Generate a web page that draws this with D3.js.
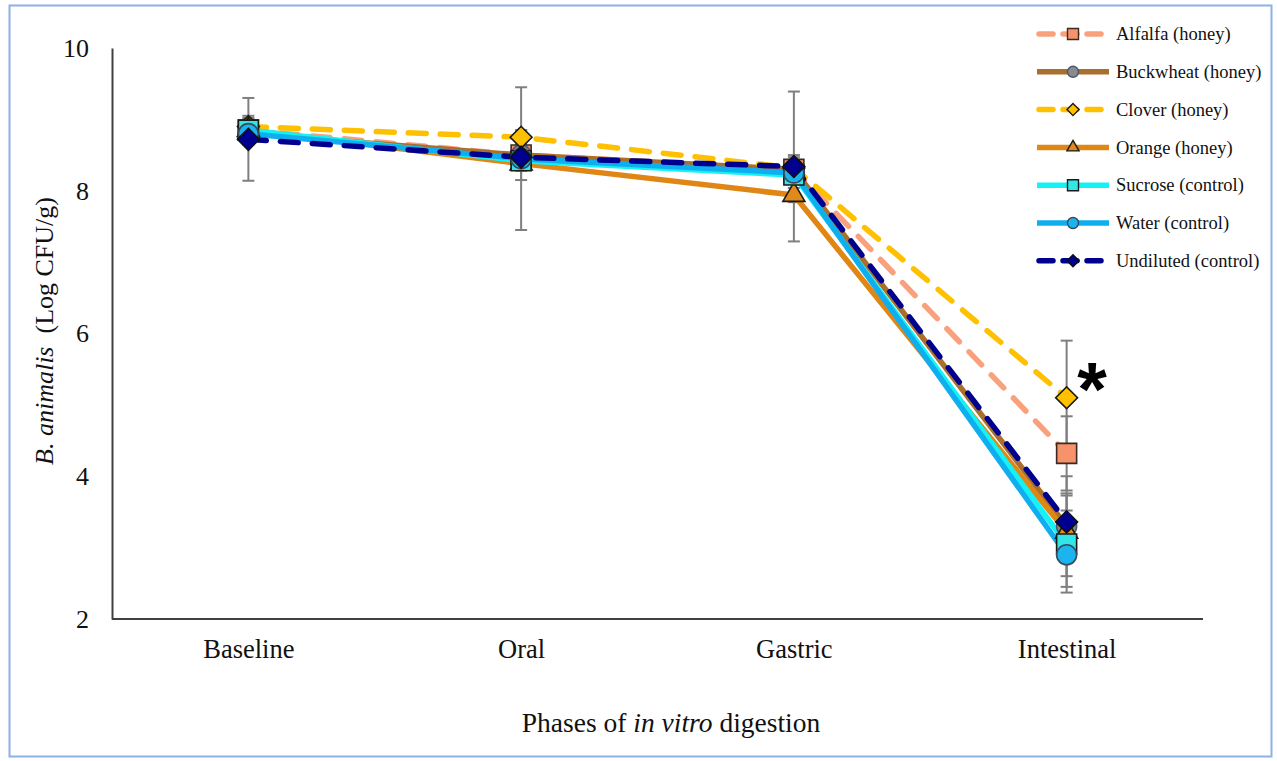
<!DOCTYPE html>
<html>
<head>
<meta charset="utf-8">
<script src="https://cdn.jsdelivr.net/npm/d3@7"></script>
<style>
  html, body { margin: 0; padding: 0; background: #ffffff; }
  svg { display: block; font-family: "Liberation Serif", "Times New Roman", serif; }
</style>
</head>
<body>
<svg id="chart" width="1277" height="761"></svg>
<script>
// ---- data ----
const phases = ["Baseline", "Oral", "Gastric", "Intestinal"];
const yTicks = [2, 4, 6, 8, 10];

const alfalfa   = [8.85, 8.50, 8.30, 4.32];
const buckwheat = [8.80, 8.50, 8.30, 3.30];
const clover    = [8.90, 8.75, 8.32, 5.10];
const orange    = [8.85, 8.38, 7.94, 3.22];
const sucrose   = [8.85, 8.42, 8.22, 3.05];
const water     = [8.80, 8.45, 8.25, 2.90];
const undiluted = [8.72, 8.47, 8.34, 3.36];

const alfalfaErr   = [0.15, 0.10, 0.12, 0.52];
const buckwheatErr = [0.10, 0.35, 0.12, 0.70];
const cloverErr    = [0.12, 0.10, 0.15, 0.80];
const orangeErr    = [0.10, 0.10, 0.10, 0.30];
const sucroseErr   = [0.20, 0.12, 0.28, 0.68];
const waterErr     = [0.15, 1.00, 0.12, 0.45];
const undilutedErr = [0.58, 0.10, 1.05, 0.40];

const seriesNames = ["Alfalfa (honey)", "Buckwheat (honey)", "Clover (honey)", "Orange (honey)",
                     "Sucrose (control)", "Water (control)", "Undiluted (control)"];

const series = [
  { name: seriesNames[0], values: alfalfa,   err: alfalfaErr,   line: "#F9A07C", fill: "#F7936A", stroke: "#3a2a20", dashed: true,  shape: "square" },
  { name: seriesNames[1], values: buckwheat, err: buckwheatErr, line: "#A8702C", fill: "#8A8A8A", stroke: "#4a5670", dashed: false, shape: "circle" },
  { name: seriesNames[2], values: clover,    err: cloverErr,    line: "#FFC000", fill: "#FFC000", stroke: "#1a1a1a", dashed: true,  shape: "diamond" },
  { name: seriesNames[3], values: orange,    err: orangeErr,    line: "#DF8615", fill: "#E08A1C", stroke: "#1a1a1a", dashed: false, shape: "triangle" },
  { name: seriesNames[4], values: sucrose,   err: sucroseErr,   line: "#14F2F5", fill: "#30E6E6", stroke: "#1a1a1a", dashed: false, shape: "square" },
  { name: seriesNames[5], values: water,     err: waterErr,     line: "#0FAFEF", fill: "#1CB4EE", stroke: "#3a4a5a", dashed: false, shape: "circle" },
  { name: seriesNames[6], values: undiluted, err: undilutedErr, line: "#00008E", fill: "#000090", stroke: "#101010", dashed: true,  shape: "diamond" }
];

// ---- layout ----
const svg = d3.select("#chart");
const plot = { left: 112, right: 1203, top: 48, bottom: 619 };

// frame
svg.append("rect")
  .attr("x", 9.5).attr("y", 5.5).attr("width", 1262).attr("height", 751)
  .attr("fill", "#ffffff").attr("stroke", "#8DB0E6").attr("stroke-width", 2);

const x = d3.scalePoint().domain(phases).range([plot.left, plot.right]).padding(0.5);
const y = d3.scaleLinear().domain([2, 10]).range([plot.bottom, plot.top]);

// axes
const yAxis = svg.append("g")
  .attr("transform", `translate(${plot.left},0)`)
  .call(d3.axisLeft(y).tickValues(yTicks).tickSize(0).tickPadding(23).tickFormat(d3.format("d")));
yAxis.select(".domain").attr("stroke", "#404040").attr("stroke-width", 2);
yAxis.selectAll("text").attr("font-size", 26).attr("fill", "#111")
  .attr("font-family", "Liberation Serif");

const xAxis = svg.append("g")
  .attr("transform", `translate(0,${plot.bottom})`)
  .call(d3.axisBottom(x).tickSize(0).tickPadding(20));
xAxis.select(".domain").attr("stroke", "#404040").attr("stroke-width", 2)
  .attr("d", `M${plot.left},0H${plot.right}`);
xAxis.selectAll("text").attr("font-size", 26.5).attr("fill", "#111")
  .attr("font-family", "Liberation Serif");

// axis titles
const xt = svg.append("text")
  .attr("x", 671).attr("y", 732)
  .attr("text-anchor", "middle").attr("font-size", 27.5).attr("fill", "#111");
xt.append("tspan").text("Phases of ");
xt.append("tspan").attr("font-style", "italic").text("in vitro");
xt.append("tspan").text(" digestion");

const yt = svg.append("text")
  .attr("transform", `translate(53,331) rotate(-90)`)
  .attr("text-anchor", "middle").attr("font-size", 26).attr("fill", "#111");
yt.append("tspan").attr("font-style", "italic").text("B. animalis");
yt.append("tspan").text("\u00A0 (Log CFU/g)");

// error bars
const capW = 6;
const eb = svg.append("g").attr("stroke", "#7F7F7F").attr("stroke-width", 2).attr("fill", "none");
series.forEach(s => {
  s.values.forEach((v, i) => {
    const cx = x(phases[i]);
    const y1 = y(v + s.err[i]), y2 = y(v - s.err[i]);
    eb.append("line").attr("x1", cx).attr("x2", cx).attr("y1", y1).attr("y2", y2);
    eb.append("line").attr("x1", cx - capW).attr("x2", cx + capW).attr("y1", y1).attr("y2", y1);
    eb.append("line").attr("x1", cx - capW).attr("x2", cx + capW).attr("y1", y2).attr("y2", y2);
  });
});

// shapes
function symbolPath(shape, scale) {
  const k = scale || 1;
  if (shape === "square") return d3.symbol().type(d3.symbolSquare).size(400 * k * k)();
  if (shape === "circle") return d3.symbol().type(d3.symbolCircle).size(Math.PI * 100 * k * k)();
  if (shape === "diamond") return d3.symbol().type(d3.symbolSquare).size(240 * k * k)();
  if (shape === "triangle") return d3.symbol().type(d3.symbolTriangle).size(210 * k * k)();
}
function symbolRotate(shape) { return shape === "diamond" ? 45 : 0; }

const lineGen = d3.line().x((d, i) => x(phases[i])).y(d => y(d));

// lines
series.forEach(s => {
  svg.append("path")
    .datum(s.values)
    .attr("d", lineGen)
    .attr("fill", "none")
    .attr("stroke", s.line)
    .attr("stroke-width", 5.5)
    .attr("stroke-linecap", s.dashed ? "round" : "butt")
    .attr("stroke-linejoin", "round")
    .attr("stroke-dasharray", s.dashed ? "18,14" : null);
});

// markers
series.forEach(s => {
  svg.append("g").selectAll("path")
    .data(s.values)
    .join("path")
    .attr("transform", (d, i) => `translate(${x(phases[i])},${y(d)}) rotate(${symbolRotate(s.shape)})`)
    .attr("d", symbolPath(s.shape, 1))
    .attr("fill", s.fill)
    .attr("stroke", s.stroke)
    .attr("stroke-width", 1.6);
});

// asterisk
svg.append("text")
  .attr("x", 1092).attr("y", 415)
  .attr("text-anchor", "middle")
  .attr("font-family", "Liberation Sans").attr("font-weight", "bold")
  .attr("font-size", 76).attr("fill", "#000").text("*");

// legend
const lg = svg.append("g");
const lgY0 = 34, lgStep = 37.8;
series.forEach((s, i) => {
  const ly = lgY0 + i * lgStep;
  lg.append("line")
    .attr("x1", s.dashed ? 1039 : 1037).attr("x2", s.dashed ? 1107 : 1109)
    .attr("y1", ly).attr("y2", ly)
    .attr("stroke", s.line).attr("stroke-width", 5.5)
    .attr("stroke-linecap", s.dashed ? "round" : "butt")
    .attr("stroke-dasharray", s.dashed ? "14,10" : null);
  lg.append("path")
    .attr("transform", `translate(1073,${ly}) rotate(${symbolRotate(s.shape)})`)
    .attr("d", symbolPath(s.shape, 0.55))
    .attr("fill", s.fill).attr("stroke", s.stroke).attr("stroke-width", 1.4);
  lg.append("text")
    .attr("x", 1116).attr("y", ly).attr("dy", "0.34em")
    .attr("font-size", 18.5).attr("fill", "#111").text(s.name);
});
</script>
</body>
</html>
